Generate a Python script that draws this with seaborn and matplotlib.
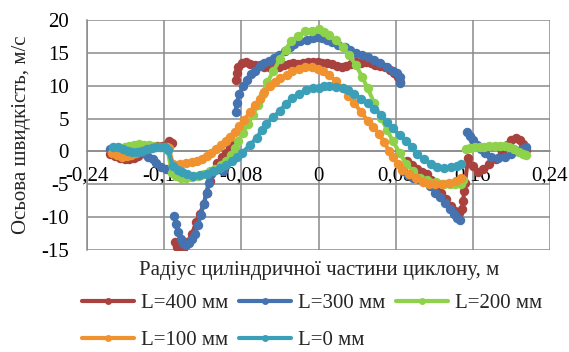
import numpy as np
import pandas as pd
import matplotlib
matplotlib.use("Agg")
import matplotlib.pyplot as plt
from matplotlib.lines import Line2D
from matplotlib.ticker import FuncFormatter
import seaborn as sns

nan = np.nan

series_names = ["L=400 мм", "L=300 мм", "L=200 мм", "L=100 мм", "L=0 мм"]
series_colors = ["#A9423F", "#4573B0", "#8ED14B", "#F0922F", "#3C9FB8"]

x_400 = [-0.216, -0.211, -0.206, -0.201, -0.196, -0.191, -0.187, -0.182, -0.177, -0.172, -0.167, -0.162, -0.158, -0.155, -0.152, nan,
         -0.149, -0.147, -0.144, -0.140, -0.136, -0.131, -0.127, -0.123, -0.119, -0.116, -0.113, -0.109, -0.105, -0.100, -0.096, -0.092, -0.089, nan,
         -0.086, -0.085, -0.083, -0.079, -0.075, -0.071, -0.066, -0.061, -0.056, -0.051, -0.046, -0.041, -0.036, -0.031, -0.026, -0.021, -0.016,
         -0.011, -0.006, -0.001, 0.004, 0.009, 0.014, 0.019, 0.024, 0.029, 0.034, 0.039, 0.044, 0.049, 0.054, 0.059, 0.064, 0.069, 0.074,
         0.078, 0.082, 0.084, nan,
         0.092, 0.097, 0.102, 0.107, 0.112, 0.117, 0.122, 0.127, 0.132, 0.137, 0.142, 0.146, 0.149, 0.150, 0.151, 0.152,
         0.155, 0.160, 0.165, 0.171, 0.177, 0.184, 0.190, 0.195, 0.200, 0.205, 0.209, 0.212, 0.215]
y_400 = [-0.4, -0.7, -1.0, -1.1, -1.2, -1.0, -0.7, -0.2, 0.3, 0.6, 0.8, 0.9, 1.0, 1.6, 1.3, nan,
         -13.8, -14.6, -15.0, -14.8, -13.8, -12.5, -10.8, -9.5, -8.0, -6.3, -4.5, -3.0, -1.8, -0.9, -0.2, 0.5, 1.0, nan,
         10.8, 12.0, 12.9, 13.4, 13.6, 13.3, 13.1, 13.2, 12.9, 12.8, 12.8, 12.9, 13.1, 13.3, 13.4, 13.3, 13.5,
         13.6, 13.6, 13.6, 13.5, 13.4, 13.3, 13.0, 12.8, 13.0, 13.3, 13.6, 13.5, 13.6, 13.4, 13.2, 13.0, 12.8, 12.4,
         12.0, 11.4, 10.6, nan,
         -1.5, -2.0, -2.6, -3.1, -3.5, -4.3, -5.3, -6.3, -7.3, -8.3, -9.0, -9.3, -8.8, -7.5, -6.0, -4.8,
         -1.0, -2.2, -3.1, -2.6, -1.9, -1.1, -0.1, 1.0, 1.8, 2.1, 1.8, 1.2, 0.2]

x_300 = [-0.216, -0.211, -0.206, -0.201, -0.196, -0.191, -0.186, -0.182, -0.177, -0.172, -0.168, -0.163, -0.158, -0.154, -0.151, nan,
         -0.150, -0.148, -0.146, -0.143, -0.140, -0.137, -0.134, -0.131, -0.128, -0.125, -0.122, -0.119, -0.116, -0.114, -0.111, -0.107, -0.103, -0.099, nan,
         -0.086, -0.085, -0.082, -0.078, -0.074, -0.070, -0.066, -0.061, -0.056, -0.051, -0.046, -0.041, -0.035, -0.030, -0.025, -0.019, -0.012,
         -0.006, -0.001, 0.004, 0.009, 0.014, 0.020, 0.027, 0.033, 0.039, 0.045, 0.051, 0.058, 0.064, 0.071, 0.077, 0.081, 0.085, 0.085, nan,
         0.088, 0.093, 0.098, 0.104, 0.110, 0.116, 0.121, 0.126, 0.131, 0.136, 0.140, 0.144, 0.147, nan,
         0.154, 0.157, 0.160, 0.164, 0.168, 0.173, 0.179, 0.186, 0.193, 0.200, 0.206, 0.211, 0.215]
y_300 = [0.4, 0.2, -0.1, -0.3, -0.4, -0.2, 0.0, -0.3, -0.8, -1.2, -1.7, -2.3, -2.7, -2.8, -2.6, nan,
         -9.8, -11.0, -12.3, -13.3, -14.0, -14.3, -14.0, -13.4, -12.5, -11.2, -9.6, -8.0, -6.3, -4.8, -3.5, -2.8, -2.6, -3.0, nan,
         6.0, 7.3, 8.8, 10.0, 10.8, 11.8, 12.3, 13.0, 13.4, 13.8, 14.2, 14.6, 15.3, 15.9, 16.4, 16.8, 17.0,
         17.3, 17.4, 17.3, 17.0, 16.6, 16.2, 15.9, 15.5, 15.0, 14.6, 14.3, 13.9, 13.4, 12.8, 12.3, 11.9, 11.4, 10.4, nan,
         -3.0, -3.6, -4.0, -4.2, -4.5, -5.3, -6.3, -7.0, -7.9, -8.8, -9.5, -10.1, -10.4, nan,
         2.9, 2.4, 1.7, 1.0, 0.4, -0.3, -0.8, -1.0, -0.8, -0.4, 0.1, 0.4, 0.6]

x_200 = [-0.206, -0.201, -0.196, -0.191, -0.186, -0.181, -0.176, -0.171, -0.166, -0.161, -0.157,
         -0.152, -0.148, -0.143, -0.137, -0.131, -0.125, -0.119, -0.113, -0.107, -0.101, -0.096, -0.091, -0.087, -0.083,
         -0.078, -0.073, -0.068, -0.063, -0.058, -0.053, -0.047, -0.040, -0.034, -0.028, -0.021, -0.014, -0.007, 0.000,
         0.006, 0.011, 0.018, 0.025, 0.032, 0.039, 0.045, 0.051, 0.058, 0.065, 0.071, 0.077, 0.084, 0.091, 0.098,
         0.105, 0.113, 0.122, 0.130, 0.136, 0.142, 0.148, 0.150, nan,
         0.153, 0.157, 0.162, 0.167, 0.172, 0.177, 0.183, 0.188, 0.193, 0.198, 0.203, 0.208, 0.212, 0.215]
y_200 = [0.5, 0.7, 0.8, 1.0, 1.1, 1.0, 1.0, 0.8, 0.7, 0.7, 0.6,
         -3.3, -3.8, -4.0, -4.0, -3.9, -3.7, -3.4, -3.0, -2.6, -2.1, -1.4, -0.5, 0.5, 1.6,
         2.8, 4.2, 5.6, 7.0, 8.8, 10.5, 12.2, 14.0, 15.5, 16.8, 17.6, 18.3, 18.4, 18.6,
         18.2, 17.7, 16.9, 15.9, 14.6, 13.1, 11.4, 9.6, 7.3, 5.1, 3.3, 1.6, -0.2, -1.9, -3.0,
         -4.0, -4.3, -4.6, -4.9, -5.0, -5.0, -5.0, -4.4, nan,
         0.4, 0.5, 0.6, 0.6, 0.7, 0.8, 0.8, 0.9, 0.8, 0.6, 0.3, -0.1, -0.4, -0.6]

x_100 = [-0.214, -0.209, -0.204, -0.199, -0.194, -0.189, -0.184, -0.179, -0.174, -0.169, -0.164, -0.159, -0.155,
         -0.151, -0.144, -0.137, -0.131, -0.126, -0.121, -0.116, -0.111, -0.106, -0.101, -0.096, -0.092, -0.087,
         -0.082, -0.077, -0.071, -0.066, -0.061, -0.056, -0.050, -0.045, -0.040, -0.033, -0.027, -0.020, -0.014,
         -0.007, -0.001, 0.005, 0.011, 0.018, 0.025, 0.031, 0.037, 0.044, 0.051, 0.057, 0.063, 0.068, 0.073,
         0.077, 0.082, 0.087, 0.094, 0.101, 0.108, 0.115, 0.121, 0.128, 0.135, 0.143, 0.148]
y_100 = [-0.3, -0.6, -0.8, -0.7, -0.5, -0.2, 0.1, 0.3, 0.5, 0.6, 0.7, 0.7, 0.5,
         -1.9, -1.9, -1.8, -1.6, -1.4, -1.1, -0.7, -0.2, 0.4, 1.0, 1.6, 2.2, 3.0,
         3.8, 4.8, 6.0, 7.0, 8.0, 9.0, 9.9, 10.5, 11.1, 11.6, 12.2, 12.6, 12.9,
         12.9, 12.6, 12.2, 11.6, 10.7, 9.6, 8.5, 7.4, 6.0, 4.7, 3.7, 2.7, 1.4, 0.1,
         -0.9, -1.9, -2.9, -3.5, -4.0, -4.6, -5.0, -5.0, -5.0, -4.8, -4.5, -4.0]

x_0 = [-0.213, -0.208, -0.203, -0.198, -0.193, -0.188, -0.183, -0.178, -0.173, -0.168, -0.163, -0.159, -0.156,
       -0.151, -0.146, -0.142, -0.136, -0.130, -0.123, -0.116, -0.109, -0.102, -0.096, -0.090, -0.085, -0.079,
       -0.071, -0.064, -0.059, -0.054, -0.047, -0.040, -0.034, -0.027, -0.020, -0.013, -0.006, 0.000, 0.006,
       0.011, 0.018, 0.025, 0.031, 0.037, 0.044, 0.051, 0.058, 0.065, 0.071, 0.077, 0.084, 0.091, 0.097,
       0.102, 0.109, 0.117, 0.123, 0.130, 0.137, 0.144, 0.148]
y_0 = [0.6, 0.7, 0.4, 0.1, -0.1, -0.1, 0.1, 0.3, 0.5, 0.6, 0.6, 0.6, 0.2,
       -2.2, -2.9, -3.2, -3.5, -3.7, -3.6, -3.4, -3.0, -2.5, -2.0, -1.4, -0.8, -0.2,
       1.0, 2.1, 3.2, 4.2, 5.2, 6.2, 7.2, 8.1, 8.8, 9.3, 9.6, 9.7, 9.9,
       10.0, 9.8, 9.6, 9.3, 8.8, 8.0, 7.3, 6.4, 5.5, 4.5, 3.5, 2.5, 1.6, 0.6,
       -0.4, -1.2, -1.9, -2.3, -2.5, -2.4, -2.2, -1.9]

x_ticks = [-0.24, -0.16, -0.08, 0.0, 0.08, 0.16, 0.24]
y_ticks = [-15, -10, -5, 0, 5, 10, 15, 20]

all_x = [x_400, x_300, x_200, x_100, x_0]
all_y = [y_400, y_300, y_200, y_100, y_0]

rows = []
for name, xs, ys in zip(series_names, all_x, all_y):
    seg = 0
    for xv, yv in zip(xs, ys):
        if np.isnan(xv):
            seg += 1
            continue
        rows.append({"series": name, "seg": f"{name}_{seg}", "x": xv, "y": yv})
df = pd.DataFrame(rows)

sns.set_style("white")
plt.rcParams["font.family"] = ["Liberation Serif", "DejaVu Serif"]
plt.rcParams["axes.unicode_minus"] = False
FS = 15

fig = plt.figure(figsize=(5.69, 3.52), dpi=100)
ax = fig.add_axes([87 / 569, 1 - 250 / 352, (550 - 87) / 569, 230 / 352])

sns.lineplot(data=df, x="x", y="y", hue="series", units="seg", estimator=None,
             sort=False, palette=dict(zip(series_names, series_colors)),
             hue_order=series_names, marker="o", markersize=6.8, markeredgewidth=0,
             linewidth=2.9, legend=False, ax=ax, zorder=3)

ax.set_xlim(-0.24, 0.24)
ax.set_ylim(-15, 20)
ax.set_xticks(x_ticks)
ax.set_yticks(y_ticks)
ax.xaxis.set_major_formatter(FuncFormatter(lambda v, p: "0" if abs(v) < 1e-9 else f"{v:.2f}".replace(".", ",")))
ax.yaxis.set_major_formatter(FuncFormatter(lambda v, p: f"{int(round(v))}"))
ax.grid(True, color="#8A8A8A", linewidth=1.1)
ax.set_axisbelow(True)
for s in ["top", "right"]:
    ax.spines[s].set_visible(False)
ax.spines["left"].set_color("#8A8A8A")
ax.spines["bottom"].set_color("#8A8A8A")
ax.spines["left"].set_linewidth(1.1)
ax.spines["bottom"].set_linewidth(1.1)
ax.spines["bottom"].set_position(("data", 0))
ax.tick_params(axis="both", length=0, labelsize=FS, colors="black")
ax.tick_params(axis="x", pad=11)
ax.tick_params(axis="y", pad=13)
ax.set_xlabel("")
ax.set_ylabel("")

fig.text(319 / 569, 1 - 270 / 352, "Радіус циліндричної частини циклону, м",
         ha="center", va="center", fontsize=FS)
fig.text(22 / 569, 1 - 135 / 352, "Осьова швидкість, м/с", rotation=90,
         ha="center", va="center", fontsize=FS)

handles = [Line2D([], [], color=c, lw=3, marker="o", markersize=5, markeredgewidth=0)
           for c in series_colors]
order = [0, 3, 1, 4, 2]
fig.legend([handles[i] for i in order], [series_names[i] for i in order], ncol=3,
           loc="center", bbox_to_anchor=(312 / 569, 1 - 322 / 352), frameon=False,
           fontsize=FS, handlelength=2.5, handletextpad=0.3, columnspacing=0.55,
           labelspacing=0.85, borderpad=0.1)

fig.savefig("out.png", dpi=100)
